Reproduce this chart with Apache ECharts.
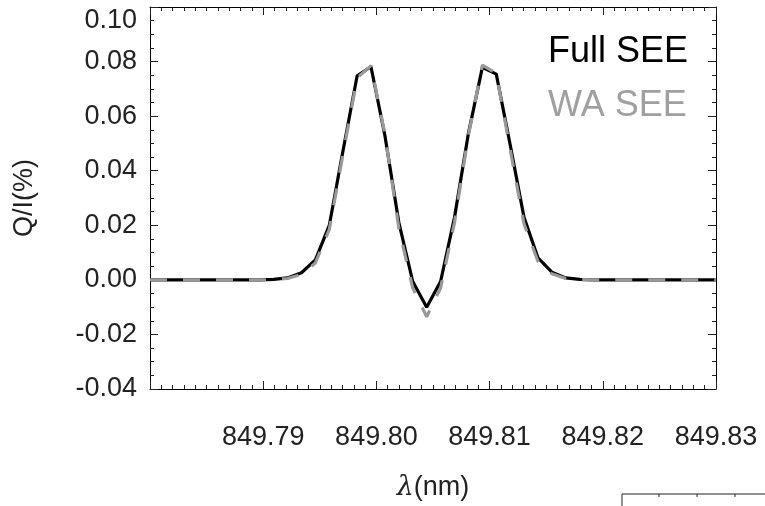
<!DOCTYPE html>
<html>
<head>
<meta charset="utf-8">
<script src="https://cdn.jsdelivr.net/npm/echarts@6/dist/echarts.min.js"></script>
<style>
html,body{margin:0;padding:0;background:#fff;}
#c{width:765px;height:506px;}
</style>
</head>
<body>
<div id="c"></div>
<script>
// wavelengths (nm)
var wavelengths = [849.78000, 849.78969, 849.79092, 849.79215, 849.79338, 849.79461, 849.79584,
  849.79707, 849.79830, 849.79952, 849.80075, 849.80198, 849.80321, 849.80444, 849.80567,
  849.80690, 849.80813, 849.80936, 849.81059, 849.81181, 849.81304, 849.81427, 849.81550,
  849.81673, 849.81796, 849.81919, 849.83000];
// Q/I (%) full SEE
var fullSEE = [0.0000, 0.0000, 0.0002, 0.0007, 0.0026, 0.0073, 0.0200,
  0.0478, 0.0748, 0.0781, 0.0529, 0.0211, -0.0006, -0.0100, -0.0006,
  0.0229, 0.0537, 0.0779, 0.0754, 0.0497, 0.0229, 0.0081, 0.0028,
  0.0007, 0.0002, 0.0000, 0.0000];
// Q/I (%) WA SEE
var waSEE = [0.0000, 0.0000, 0.0001, 0.0005, 0.0020, 0.0062, 0.0185,
  0.0465, 0.0740, 0.0785, 0.0535, 0.0190, -0.0030, -0.0135, -0.0030,
  0.0210, 0.0530, 0.0787, 0.0757, 0.0480, 0.0205, 0.0068, 0.0022,
  0.0005, 0.0001, 0.0000, 0.0000];
var seriesNames = ['Full SEE', 'WA SEE'];
var xName = 'λ';
var xUnit = '(nm)';
var yName = 'Q/I(%)';

function pairs(xs, ys) { return xs.map(function (x, i) { return [x, ys[i]]; }); }

var FONT = 'Liberation Sans';
var axisCommon = {
  axisLine: { show: true, onZero: false, lineStyle: { color: '#000', width: 1 } },
  axisTick: { show: true, inside: true, length: 8, lineStyle: { color: '#222', width: 1 } },
  splitLine: { show: false }
};

var chart = echarts.init(document.getElementById('c'), null, { renderer: 'canvas' });
chart.setOption({
  animation: false,
  backgroundColor: '#fff',
  grid: { left: 150, right: 49, top: 7, bottom: 111, containLabel: false },
  legend: {
    orient: 'vertical', left: 543, top: 34, padding: 0, itemGap: 18,
    itemWidth: 0, itemHeight: 0, icon: 'rect', selectedMode: false,
    itemStyle: { opacity: 0 },
    data: [
      { name: seriesNames[0], textStyle: { color: '#000', fontSize: 36, fontFamily: FONT } },
      { name: seriesNames[1], textStyle: { color: '#a0a0a0', fontSize: 36, fontFamily: FONT } }
    ]
  },
  xAxis: [
    Object.assign({}, axisCommon, {
      type: 'value', position: 'bottom', min: 849.78, max: 849.83, interval: 0.01,
      minorTick: { show: true, splitNumber: 10, length: 4, lineStyle: { color: '#222' } },
      minorSplitLine: { show: false },
      axisLabel: { show: true, showMinLabel: false, margin: 35, color: '#222', fontSize: 27, fontFamily: FONT,
        formatter: function (v) { return v.toFixed(2); } },
      name: '{i|' + xName + '}' + xUnit, nameLocation: 'middle', nameGap: 85,
      nameTextStyle: { color: '#222', fontSize: 27, fontFamily: FONT,
        rich: { i: { fontStyle: 'italic', fontSize: 27, fontFamily: 'DejaVu Serif', color: '#222' } } }
    }),
    Object.assign({}, axisCommon, {
      type: 'value', position: 'top', min: 849.78, max: 849.83, interval: 0.01,
      minorTick: { show: true, splitNumber: 10, length: 4, lineStyle: { color: '#222' } },
      axisLabel: { show: false }
    })
  ],
  yAxis: [
    Object.assign({}, axisCommon, {
      type: 'value', position: 'left', min: -0.04, max: 0.10, interval: 0.02,
      minorTick: { show: true, splitNumber: 4, length: 4, lineStyle: { color: '#222' } },
      axisLabel: { show: true, margin: 13, color: '#222', fontSize: 27, fontFamily: FONT,
        verticalAlignMaxLabel: 'top',
        formatter: function (v) { return v.toFixed(2); } },
      name: yName, nameLocation: 'middle', nameGap: 112, nameRotate: 90,
      nameTextStyle: { color: '#222', fontSize: 27, fontFamily: FONT }
    }),
    Object.assign({}, axisCommon, {
      type: 'value', position: 'right', min: -0.04, max: 0.10, interval: 0.02,
      minorTick: { show: true, splitNumber: 4, length: 4, lineStyle: { color: '#222' } },
      axisLabel: { show: false }
    })
  ],
  series: [
    { name: seriesNames[0], type: 'line', data: pairs(wavelengths, fullSEE), showSymbol: false,
      symbol: 'none', color: '#000', lineStyle: { color: '#000', width: 3.2 }, z: 2 },
    { name: seriesNames[1], type: 'line', data: pairs(wavelengths, waSEE), showSymbol: false,
      symbol: 'none', color: '#a0a0a0', lineStyle: { color: '#999', width: 3.2, type: [17, 16] }, z: 3 }
  ],
  graphic: [
    { type: 'polyline', shape: { points: [[622, 506], [622, 494], [765, 494]] },
      style: { stroke: '#222', lineWidth: 1, fill: null } },
    { type: 'line', shape: { x1: 659, y1: 494, x2: 659, y2: 497 }, style: { stroke: '#222', lineWidth: 1 } },
    { type: 'line', shape: { x1: 697, y1: 494, x2: 697, y2: 497 }, style: { stroke: '#222', lineWidth: 1 } },
    { type: 'line', shape: { x1: 735, y1: 494, x2: 735, y2: 497 }, style: { stroke: '#222', lineWidth: 1 } }
  ]
});
</script>
</body>
</html>
